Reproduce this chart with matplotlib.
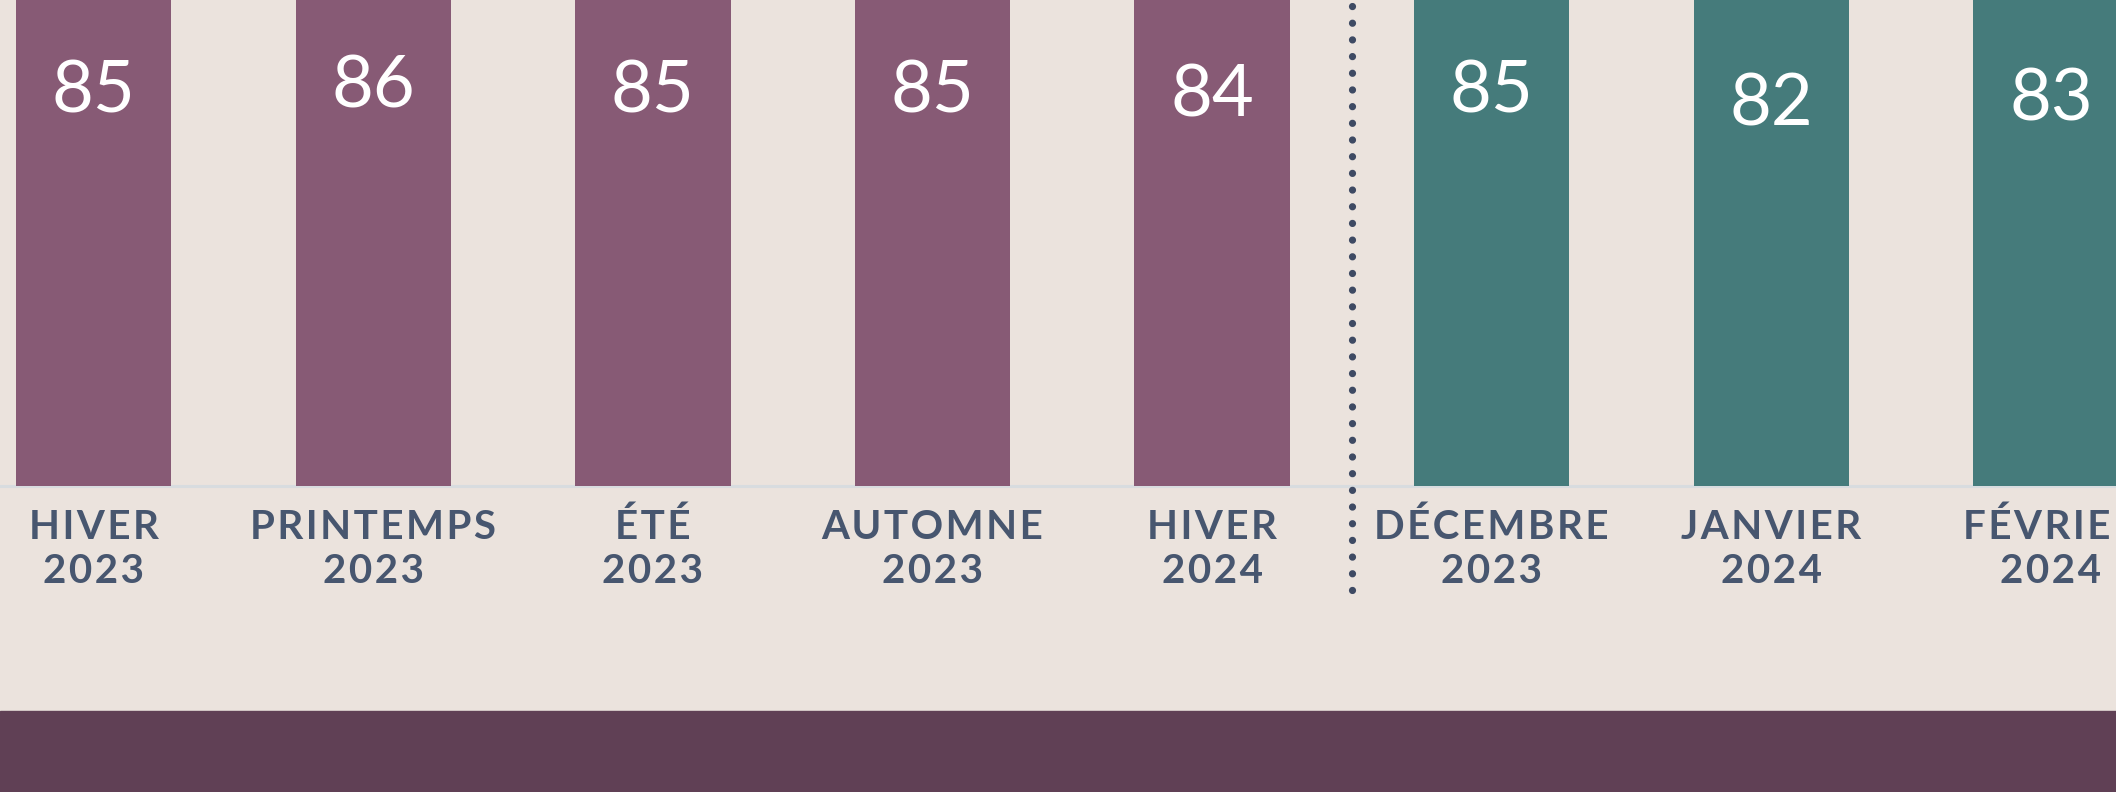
import matplotlib.pyplot as plt
import matplotlib.transforms as mtransforms
from matplotlib.patches import Rectangle
import numpy as np

# data
periods = ['HIVER\n2023', 'PRINTEMPS\n2023', 'ÉTÉ\n2023', 'AUTOMNE\n2023', 'HIVER\n2024',
           'DÉCEMBRE\n2023', 'JANVIER\n2024', 'FÉVRIER\n2024']
scores = [85, 86, 85, 85, 84, 85, 82, 83]
n_seasons = 5   # first 5 are seasons, the rest are months

bg = '#EBE3DD'
purple = '#875A75'
teal = '#457B7B'
label_col = '#47566F'
band_col = '#604055'

# axis is cut: bars run past the top edge
y_lo, y_hi = -30.5, 80
lab_off = 30.5

fig = plt.figure(figsize=(21.16, 7.92), dpi=100, facecolor=bg)
ax = fig.add_axes([0, 306 / 792, 1, 486 / 792])
ax.set_facecolor(bg)

x = np.arange(len(scores))
cols = [purple] * n_seasons + [teal] * (len(scores) - n_seasons)
ax.bar(x, [s - y_lo for s in scores], bottom=y_lo, width=0.556, color=cols, zorder=3)

for xi, s in zip(x, scores):
    ax.text(xi, s - lab_off, str(s), ha='center', va='baseline', color='white',
            fontsize=52, family='Lato', zorder=4)

ax.set_xlim(-0.335, 7.233)
ax.set_ylim(y_lo, y_hi)

# separator between seasons and months
ax.axvline(n_seasons - 0.5, ymin=-104 / 486, ymax=1, color='#3E4A63', lw=5.2,
           linestyle=(0, (0.01, 2.3)), dash_capstyle='round', clip_on=False, zorder=5)

# category labels, two lines each, letter-spaced
trans = mtransforms.blended_transform_factory(ax.transData, ax.transAxes)
def spaced(s):
    return '\u200a'.join(s)

for xi, lab in zip(x, periods):
    top, bottom = lab.split('\n')
    for txt, dy in [(top, 53), (bottom, 97)]:
        ax.text(xi, -dy / 486, spaced(txt), transform=trans, ha='center', va='baseline',
                fontsize=29, family=['Lato', 'DejaVu Sans'], fontweight='bold',
                color=label_col, clip_on=False)

ax.set_xticks([])
ax.set_yticks([])
for side in ['top', 'left', 'right']:
    ax.spines[side].set_visible(False)
ax.spines['bottom'].set_color('#D8DCDF')
ax.spines['bottom'].set_linewidth(2.2)

fig.patches.append(Rectangle((0, 0), 1, 81 / 792, transform=fig.transFigure,
                             color=band_col, zorder=0))

plt.savefig('out.png', dpi=100, facecolor=bg)
